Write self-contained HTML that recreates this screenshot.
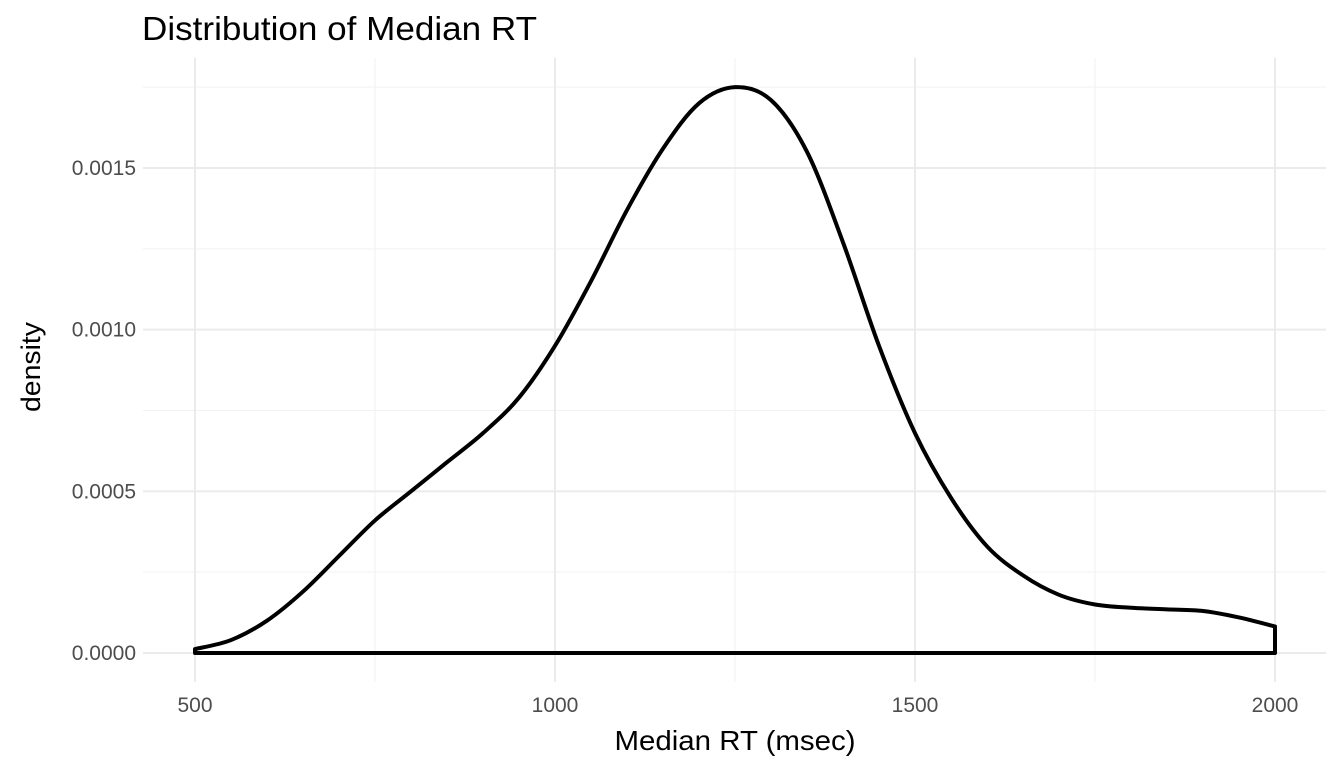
<!DOCTYPE html>
<html><head><meta charset="utf-8"><style>
body{margin:0;background:#fff}
svg{font-family:"Liberation Sans",sans-serif}
</style></head><body>
<svg id="c" width="1344" height="768">
<g id="grid"></g>
<g id="axes"></g>
<path id="curve" fill="none" stroke="#000" stroke-width="4" stroke-linejoin="round"/>
<text x="142" y="40" font-size="33" textLength="395" lengthAdjust="spacingAndGlyphs" fill="#000">Distribution of Median RT</text>
<text x="735" y="750" font-size="28" text-anchor="middle" textLength="241" lengthAdjust="spacingAndGlyphs" fill="#000">Median RT (msec)</text>
<text transform="translate(40,367) rotate(-90)" font-size="27" text-anchor="middle" textLength="90" lengthAdjust="spacingAndGlyphs" fill="#000">density</text>
</svg>
<script>
const xs=[500,550,600,650,700,750,800,850,900,950,1000,1050,1100,1150,1200,1250,1300,1350,1400,1450,1500,1550,1600,1650,1700,1750,1800,1850,1900,1950,2000];
const dens=[0.000012,0.00004,0.0001,0.00019,0.0003,0.00041,0.0005,0.00059,0.00068,0.00079,0.00095,0.00115,0.00137,0.00156,0.0017,0.00175,0.00171,0.00155,0.00127,0.00095,0.00068,0.00048,0.00033,0.00024,0.00018,0.00015,0.00014,0.000135,0.00013,0.00011,0.000082];
const xTicks=[500,1000,1500,2000];
const xMinor=[750,1250,1750];
const yTicks=[0,0.0005,0.001,0.0015];
const yLabels=["0.0000","0.0005","0.0010","0.0015"];
const yMinor=[0.00025,0.00075,0.00125,0.00175];
const X=v=>195+(v-500)*0.72;
const Y=v=>653-v*323333.3;
const ns="http://www.w3.org/2000/svg";
const grid=document.getElementById('grid'),axes=document.getElementById('axes');
function line(x1,y1,x2,y2,w,col,name){const l=document.createElementNS(ns,'line');
l.setAttribute('x1',x1);l.setAttribute('y1',y1);l.setAttribute('x2',x2);l.setAttribute('y2',y2);
l.setAttribute('stroke',col);l.setAttribute('stroke-width',w);


grid.appendChild(l);}
xMinor.forEach(v=>line(X(v),58,X(v),682,1,'#f2f2f2','x-minor-gridline'));
yMinor.forEach(v=>line(143,Y(v),1326,Y(v),1,'#f2f2f2','y-minor-gridline'));
xTicks.forEach(v=>line(X(v),58,X(v),682,2,'#ebebeb','x-gridline'));
yTicks.forEach(v=>line(143,Y(v),1326,Y(v),2,'#ebebeb','y-gridline'));
function txt(x,y,s,anchor,name){const t=document.createElementNS(ns,'text');
t.setAttribute('x',x);t.setAttribute('y',y);t.setAttribute('font-size','21');t.setAttribute('fill','#4d4d4d');t.setAttribute('text-anchor',anchor);t.textContent=s;


axes.appendChild(t);}
xTicks.forEach(v=>txt(X(v),712,String(v),'middle','x-tick-label'));
yTicks.forEach((v,i)=>txt(136,Y(v)+7,yLabels[i],'end','y-tick-label'));
const pts=xs.map((v,i)=>[X(v),Y(dens[i])]);
let d='M'+pts[0][0]+','+pts[0][1];
for(let i=0;i<pts.length-1;i++){const p0=pts[Math.max(0,i-1)],p1=pts[i],p2=pts[i+1],p3=pts[Math.min(pts.length-1,i+2)];
d+=' C'+(p1[0]+(p2[0]-p0[0])/6)+','+(p1[1]+(p2[1]-p0[1])/6)+' '+(p2[0]-(p3[0]-p1[0])/6)+','+(p2[1]-(p3[1]-p1[1])/6)+' '+p2[0]+','+p2[1];}
d+=' L'+X(xs[xs.length-1])+','+Y(0)+' L'+X(xs[0])+','+Y(0)+' Z';
document.getElementById('curve').setAttribute('d',d);
</script>
</body></html>
